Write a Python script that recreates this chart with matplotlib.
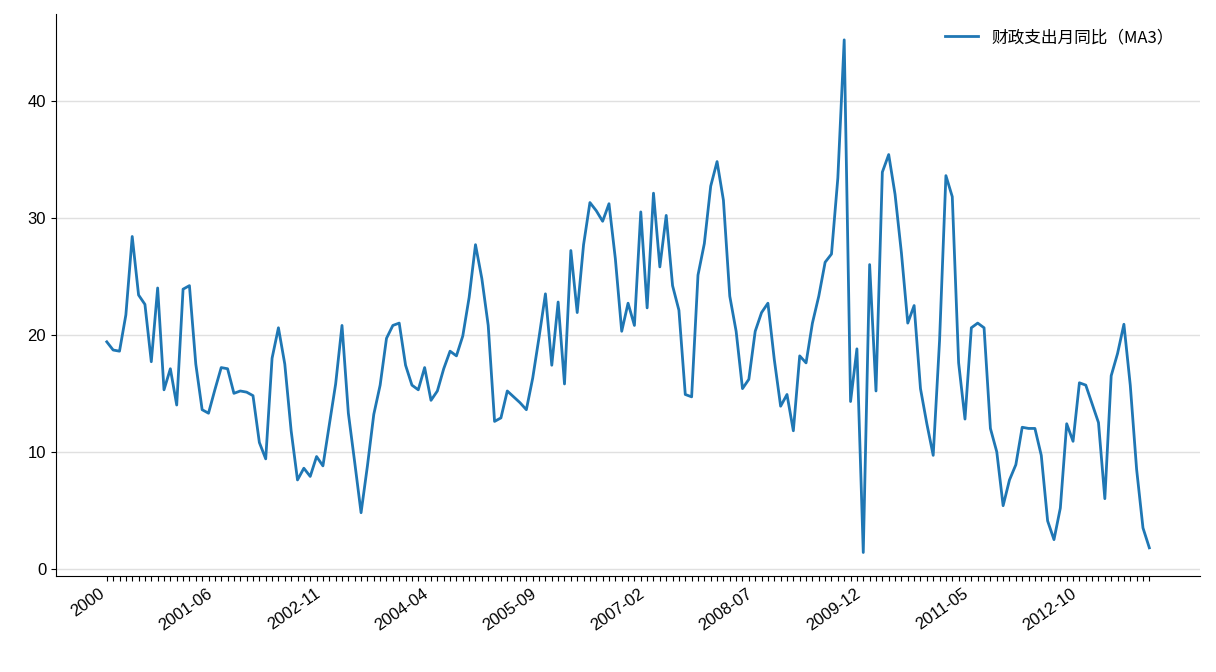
import matplotlib
matplotlib.use("Agg")
import matplotlib.pyplot as plt
import pandas as pd

plt.rcParams['font.family'] = ['Liberation Sans', 'Noto Sans CJK SC', 'DejaVu Sans']

values = [19.4,18.7,18.6,21.7,28.4,23.4,22.6,17.7,24.0,15.3,17.1,14.0,23.9,24.2,17.5,13.6,13.3,15.3,17.2,17.1,
15.0,15.2,15.1,14.8,10.8,9.4,18.0,20.6,17.5,11.8,7.6,8.6,7.9,9.6,8.8,12.3,15.8,20.8,13.3,9.1,
4.8,8.8,13.2,15.7,19.7,20.8,21.0,17.4,15.7,15.3,17.2,14.4,15.2,17.1,18.6,18.2,19.9,23.2,27.7,24.8,
20.8,12.6,12.9,15.2,14.7,14.2,13.6,16.3,19.8,23.5,17.4,22.8,15.8,27.2,21.9,27.7,31.3,30.6,29.7,31.2,
26.5,20.3,22.7,20.8,30.5,22.3,32.1,25.8,30.2,24.2,22.1,14.9,14.7,25.1,27.8,32.7,34.8,31.5,23.3,20.3,
15.4,16.2,20.3,21.9,22.7,17.9,13.9,14.9,11.8,18.2,17.6,21.0,23.3,26.2,26.9,33.4,45.2,14.3,18.8,1.4,
26.0,15.2,33.9,35.4,32.0,27.0,21.0,22.5,15.4,12.4,9.7,19.5,33.6,31.8,17.6,12.8,20.6,21.0,20.6,12.0,
10.0,5.4,7.6,8.9,12.1,12.0,12.0,9.7,4.1,2.5,5.2,12.4,10.9,15.9,15.7,14.1,12.5,6.0,16.5,18.4,
20.9,15.7,8.5,3.5,1.8]
dates = pd.date_range("2000-01", periods=len(values), freq="MS")
labels = ["2000"] + [d.strftime("%Y-%m") for d in dates[1:]]
label_step = 17

fig = plt.figure(figsize=(12.16, 6.72), dpi=100)
ax = fig.add_axes([0.046, 0.143, 0.941, 0.836])
x = list(range(len(values)))
ax.plot(x, values, color='#1f77b4', lw=2, label='财政支出月同比（MA3）')
ax.set_xticks(x)
ax.set_xticklabels([l if i % label_step == 0 else "" for i, l in enumerate(labels)],
                   rotation=35, ha='right', fontsize=12)
ax.tick_params(axis='y', labelsize=12)
ax.set_yticks([0, 10, 20, 30, 40])
ax.set_xlim(-8, len(values) + 7)
ax.set_ylim(-0.6, 47.4)
ax.grid(axis='y', color='#e0e0e0', lw=1)
ax.set_axisbelow(True)
for s in ['top', 'right']:
    ax.spines[s].set_visible(False)
ax.legend(loc='upper right', frameon=False,
          prop={'family': ['Noto Sans CJK SC', 'DejaVu Sans'], 'size': 12},
          bbox_to_anchor=(0.99, 1.0))
fig.savefig("out.png", dpi=100)
